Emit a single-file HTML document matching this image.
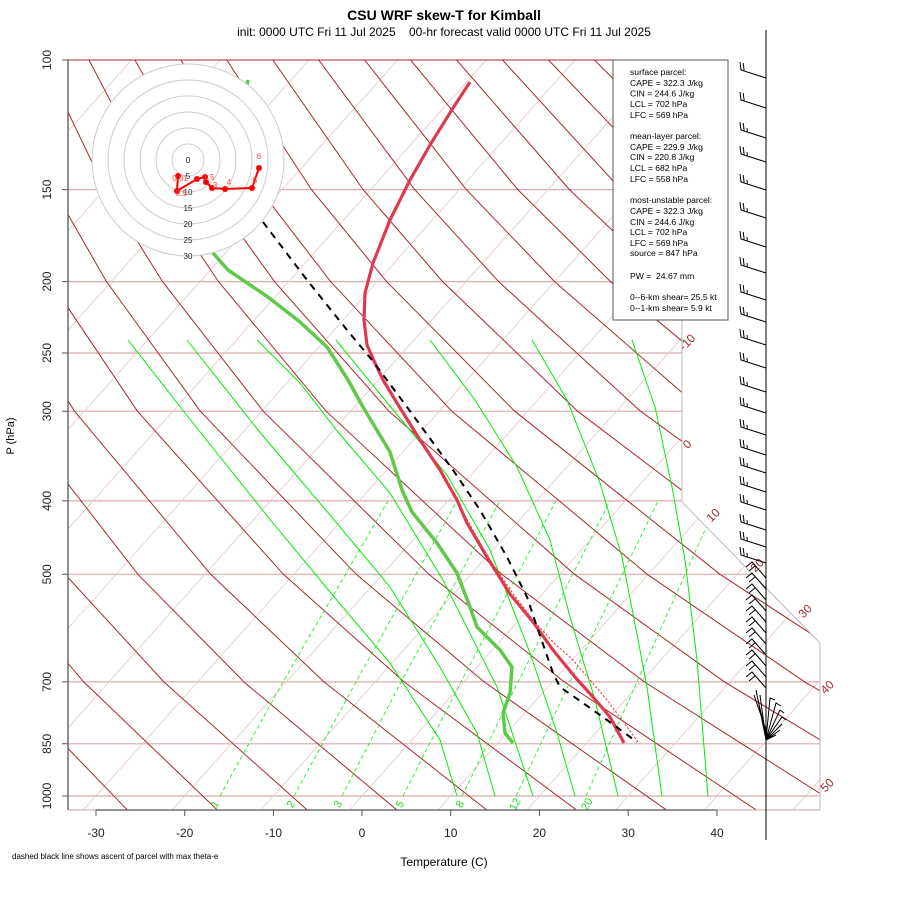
<!DOCTYPE html>
<html><head><meta charset="utf-8"><style>
html,body{margin:0;padding:0;background:#fff;}
svg{display:block;font-family:"Liberation Sans",sans-serif;}
</style></head><body>
<svg width="900" height="900" viewBox="0 0 900 900" xmlns="http://www.w3.org/2000/svg">
<defs><clipPath id="cp"><polygon points="68,60 682,60 682,502 820,643 820,810 68,810"/></clipPath></defs>
<rect width="900" height="900" fill="#fff"/>
<g clip-path="url(#cp)" fill="none">
<!-- isobars -->
<g stroke="#dcaaaa" stroke-width="1.2">
<line x1="68" y1="189.6" x2="820" y2="189.6"/><line x1="68" y1="281.6" x2="820" y2="281.6"/>
<line x1="68" y1="353" x2="820" y2="353"/><line x1="68" y1="411.2" x2="820" y2="411.2"/>
<line x1="68" y1="500.9" x2="820" y2="500.9"/><line x1="68" y1="574.3" x2="820" y2="574.3"/>
<line x1="68" y1="681.9" x2="820" y2="681.9"/><line x1="68" y1="743.8" x2="820" y2="743.8"/>
<line x1="68" y1="796" x2="820" y2="796"/>
</g>
<!-- isotherms -->
<path stroke="#ebcaca" stroke-width="0.9" d="M-626.2 810L42.8 60M-537.5 810L131.5 60M-448.8 810L220.2 60M-360.1 810L308.9 60M-271.4 810L397.6 60M-182.7 810L486.3 60M-94 810L575 60M-5.3 810L663.7 60M83.4 810L752.4 60M172.1 810L841.1 60M260.8 810L929.8 60M349.5 810L1018.5 60M438.2 810L1107.2 60M526.9 810L1195.9 60M615.6 810L1284.6 60M704.3 810L1373.3 60M793 810L1462 60"/>
<!-- dry adiabats -->
<g stroke="#a52a2a" stroke-width="1">
<polyline points="129,811.6 3.6,681.9 -80.4,574.3 -177,411.2"/>
<polyline points="219,811.6 83.7,681.9 -7.6,574.3 -114.1,411.2"/>
<polyline points="309,811.6 163.8,681.9 65.1,574.3 -51.2,411.2 -117.5,281.6"/>
<polyline points="398.8,811.6 243.9,681.9 137.9,574.3 11.6,411.2 -61.5,281.6 -101.2,189.6"/>
<polyline points="488.8,811.6 324,681.9 210.7,574.3 74.5,411.2 -5.5,281.6 -49.6,189.6 -94.8,60"/>
<polyline points="578.7,811.6 404.1,681.9 283.4,574.3 137.4,411.2 50.5,281.6 2,189.6 -48.9,60"/>
<polyline points="668.7,811.6 484.2,681.9 356.2,574.3 200.3,411.2 106.5,281.6 53.6,189.6 -2.9,60"/>
<polyline points="758.6,811.6 564.3,681.9 428.9,574.3 263.2,411.2 162.5,281.6 105.2,189.6 43,60"/>
<polyline points="848.6,811.6 644.4,681.9 501.7,574.3 326.1,411.2 218.5,281.6 156.8,189.6 89,60"/>
<polyline points="938.5,811.6 724.5,681.9 574.5,574.3 388.9,411.2 274.5,281.6 208.4,189.6 134.9,60"/>
<polyline points="1028.5,811.6 804.7,681.9 647.2,574.3 451.8,411.2 330.6,281.6 259.9,189.6 180.9,60"/>
<polyline points="1118.4,811.6 884.8,681.9 720,574.3 514.7,411.2 386.6,281.6 311.5,189.6 226.8,60"/>
<polyline points="1208.4,811.6 964.9,681.9 792.8,574.3 577.6,411.2 442.6,281.6 363.1,189.6 272.8,60"/>
<polyline points="1298.3,811.6 1045,681.9 865.5,574.3 640.5,411.2 498.6,281.6 414.7,189.6 318.7,60"/>
<polyline points="1388.2,811.6 1125.1,681.9 938.3,574.3 703.4,411.2 554.6,281.6 466.3,189.6 364.7,60"/>
<polyline points="1205.2,681.9 1011,574.3 766.2,411.2 610.6,281.6 517.8,189.6 410.6,60"/>
<polyline points="1083.8,574.3 829.1,411.2 666.6,281.6 569.4,189.6 456.6,60"/>
<polyline points="1156.6,574.3 892,411.2 722.6,281.6 621,189.6 502.5,60"/>
<polyline points="954.9,411.2 778.6,281.6 672.6,189.6 548.5,60"/>
<polyline points="1017.8,411.2 834.7,281.6 724.2,189.6 594.4,60"/>
<polyline points="890.7,281.6 775.7,189.6 640.4,60"/>
<polyline points="946.7,281.6 827.3,189.6 686.3,60"/>
</g>
<!-- mixing ratio -->
<g stroke="#22ee22" stroke-width="0.9" stroke-dasharray="4,3">
<polyline points="220,796 283,681.9 388,500.9"/>
<polyline points="294,796 356,681.9 457,500.9"/>
<polyline points="342,796 401,681.9 500,500.9"/>
<polyline points="403,796 461,681.9 556,500.9"/>
<polyline points="462,796 518,681.9 610,500.9"/>
<polyline points="516,796 570,681.9 658,500.9"/>
<polyline points="586,796 637,681.9 718,500.9"/>
</g>
<!-- moist adiabats -->
<g stroke="#00ee00" stroke-width="1">
<polyline points="128,340 185,413 268,517 330,592 390,663 440,740 457,796"/>
<polyline points="187,340 258,430 330,515 390,587 440,667 477,733 495,796"/>
<polyline points="257,340 300,383 338,432 390,493 443,580 497,687 533,796"/>
<polyline points="336,340 385,400 447,475 490,550 530,653 557,733 575,796"/>
<polyline points="430,340 475,400 517,467 550,540 570,617 595,700 618,796"/>
<polyline points="532,340 567,400 600,483 622,557 640,650 647,687 662,796"/>
<polyline points="632,340 655,407 672,487 685,560 697,660 708,796"/>
</g>
<!-- profiles -->
<polyline stroke="#ff2020" stroke-width="1" stroke-dasharray="2,2" points="440,470 457,500 470,525 490,560 512,592 533,620 553,642 573,660 590,680 607,700 622,720 638,742"/>
<polyline stroke="#5fc94a" stroke-width="3.5" stroke-linejoin="round" points="248,80 213,253 228,270 268,297 300,322 327,347 348,380 363,407 390,452 402,490 412,512 437,543 457,573 470,607 477,627 500,650 512,667 510,693 503,713 505,733 513,743"/>
<polyline stroke="#de3a4f" stroke-width="3.2" stroke-linejoin="round" points="470,82 453,108 430,145 410,180 390,220 373,263 365,293 364,320 367,345 375,363 383,380 397,403 420,440 440,470 457,500 467,523 487,557 510,594 533,622 553,650 575,677 593,697 610,717 617,730 624,743"/>
<polyline stroke="#000" stroke-width="2" stroke-dasharray="7,6" points="263,222 307,280 347,330 372,360 407,407 453,470 480,510 507,557 527,597 537,627 553,673 560,687 583,703 607,720 637,742"/>
</g>
<!-- boundary -->
<polyline points="682,320 682,502 820,643 820,810" fill="none" stroke="#bbb" stroke-width="1"/>
<line x1="68" y1="60" x2="682" y2="60" stroke="#a52a2a" stroke-width="1"/>
<line x1="68" y1="810" x2="820" y2="810" stroke="#c8a0a0" stroke-width="1"/>
<!-- labels isotherms -->
<g font-size="12" fill="#a52a2a" text-anchor="middle">
<text transform="translate(690,345) rotate(-45)">-10</text>
<text transform="translate(690,447) rotate(-45)">0</text>
<text transform="translate(716,518) rotate(-45)">10</text>
<text transform="translate(760,568) rotate(-45)">20</text>
<text transform="translate(808,614) rotate(-45)">30</text>
<text transform="translate(830,690) rotate(-45)">40</text>
<text transform="translate(830,788) rotate(-45)">50</text>
</g>
<g font-size="11" fill="#22dd22" text-anchor="middle">
<text transform="translate(218,806) rotate(-60)">1</text>
<text transform="translate(294,806) rotate(-60)">2</text>
<text transform="translate(341,806) rotate(-60)">3</text>
<text transform="translate(403,806) rotate(-60)">5</text>
<text transform="translate(463,806) rotate(-60)">8</text>
<text transform="translate(518,806) rotate(-60)">12</text>
<text transform="translate(590,806) rotate(-60)">20</text>
</g>
<!-- axes -->
<line x1="68" y1="60" x2="68" y2="810" stroke="#555" stroke-width="1.3"/>
<line x1="96" y1="810" x2="717" y2="810" stroke="#555" stroke-width="1.3"/>
<g stroke="#555">
<path d="M62 60H68M62 189.6H68M62 281.6H68M62 353H68M62 411.2H68M62 500.9H68M62 574.3H68M62 681.9H68M62 743.8H68M62 796H68"/>
<path d="M96 810V816M184.7 810V816M273.4 810V816M362 810V816M450.7 810V816M539.4 810V816M628.2 810V816M717 810V816"/>
</g>
<g font-size="12" fill="#222" text-anchor="middle">
<text transform="translate(51,60) rotate(-90)">100</text>
<text transform="translate(51,189.6) rotate(-90)">150</text>
<text transform="translate(51,281.6) rotate(-90)">200</text>
<text transform="translate(51,353) rotate(-90)">250</text>
<text transform="translate(51,411.2) rotate(-90)">300</text>
<text transform="translate(51,500.9) rotate(-90)">400</text>
<text transform="translate(51,574.3) rotate(-90)">500</text>
<text transform="translate(51,681.9) rotate(-90)">700</text>
<text transform="translate(51,743.8) rotate(-90)">850</text>
<text transform="translate(51,796) rotate(-90)">1000</text>
<text x="96" y="837">-30</text><text x="184.7" y="837">-20</text><text x="273.4" y="837">-10</text>
<text x="362" y="837">0</text><text x="450.7" y="837">10</text><text x="539.4" y="837">20</text>
<text x="628.2" y="837">30</text><text x="717" y="837">40</text>
</g>
<text x="444" y="20" text-anchor="middle" font-size="14" font-weight="bold">CSU WRF skew-T for Kimball</text>
<text x="444" y="36" text-anchor="middle" font-size="12" xml:space="preserve">init: 0000 UTC Fri 11 Jul 2025    00-hr forecast valid 0000 UTC Fri 11 Jul 2025</text>
<text x="444" y="866" text-anchor="middle" font-size="12">Temperature (C)</text>
<text transform="translate(14,436) rotate(-90)" text-anchor="middle" font-size="11">P (hPa)</text>
<text x="12" y="859" font-size="8">dashed black line shows ascent of parcel with max theta-e</text>
<!-- wind column -->
<line x1="766" y1="30" x2="766" y2="840" stroke="#000" stroke-width="1"/>
<path fill="none" stroke="#000" stroke-width="1" d="
M766 78L741 70L740 62M744.2 71L743.2 63
M766 108L741 100L740 92M744.2 101L743.2 93
M766 138L741 130L740 122M744.2 131L743.2 123M747.4 132L747 128
M766 162L741 154L740 146M744.2 155L743.2 147M747.4 156L747 152
M766 190L741 182L740 174M744.2 183L743.2 175M747.4 184L747 180
M766 218L741 210L740 202M744.2 211L743.2 203M747.4 212L747 208
M766 247L741 239L740 231M744.2 240L743.2 232M747.4 241L747 237
M766 273L741 265L740 257M744.2 266L743.2 258M747.4 267L747 263
M766 300L741 292L740 284M744.2 293L743.2 285M747.4 294L747 290
M766 322L741 314L740 306M744.2 315L743.2 307M747.4 316L747 312
M766 345L741 337L740 329M744.2 338L743.2 330M747.4 339L747 335
M766 368L741 360L740 352M744.2 361L743.2 353M747.4 362L747 358
M766 392L741 384L740 376M744.2 385L743.2 377M747.4 386L747 382
M766 413L741 405L740 397M744.2 406L743.2 398M747.4 407L747 403
M766 435L741 427L740 419M744.2 428L743.2 420M747.4 429L747 425
M766 455L741 447L740 439M744.2 448L743.2 440M747.4 449L747 445
M766 473L741 465L740 457M744.2 466L743.2 458M747.4 467L747 463
M766 492L741 484L740 476M744.2 485L743.2 477M747.4 486L747 482
M766 510L741 502L740 494M744.2 503L743.2 495M747.4 504L747 500
M766 530L741 522L740 514M744.2 523L743.2 515M747.4 524L747 520
M766 547L741 539L740 531M744.2 540L743.2 532M747.4 541L747 537
M766 563L741 555L740 547M744.2 556L743.2 548M747.4 557L747 553
M766 578L752 562L746 567M755 566L749 571
M766 589L752 573L746 578M755 577L749 582
M766 600L752 584L746 589M755 588L749 593
M766 611L752 595L746 600M755 599L749 604
M766 622L752 606L746 611M755 610L749 615
M766 633L752 617L746 622M755 621L749 626
M766 644L752 628L746 633M755 632L749 637
M766 655L752 639L746 644M755 643L749 648
M766 666L752 650L746 655M755 654L749 659
M766 677L752 661L746 666M755 665L749 670
M766 688L752 672L746 677M755 676L749 681
M766 740L756 690M766 740L760 695M766 740L770 698L775 700M766 740L776 703L781 706M766 740L780 710L784 713M766 740L782 717L786 720M766 740L782 724M766 740L780 730M766 740L776 735M766 730L754 695M766 735L758 700"/>
<!-- hodograph -->
<g>
<circle cx="188" cy="160" r="96" fill="#fff" stroke="#ccc"/>
<g fill="none" stroke="#ccc"><circle cx="188" cy="160" r="16"/><circle cx="188" cy="160" r="32"/><circle cx="188" cy="160" r="48"/><circle cx="188" cy="160" r="64"/><circle cx="188" cy="160" r="80"/></g>
<g font-size="8" fill="#222" text-anchor="middle">
<text x="188" y="163">0</text><text x="188" y="179">5</text><text x="188" y="195">10</text><text x="188" y="211">15</text><text x="188" y="227">20</text><text x="188" y="243">25</text><text x="188" y="259">30</text>
</g>
<polyline fill="none" stroke="#f00" stroke-width="2" points="178,176 177,191 197,179 205,177 206,182 212,188 225,189 252,188 259,168"/>
<g fill="#f00"><circle cx="178" cy="176" r="3"/><circle cx="177" cy="191" r="3"/><circle cx="197" cy="179" r="3"/><circle cx="205" cy="177" r="3"/><circle cx="206" cy="182" r="3"/><circle cx="212" cy="188" r="3"/><circle cx="225" cy="189" r="3"/><circle cx="252" cy="188" r="3"/><circle cx="259" cy="168" r="3"/></g>
<g font-size="8" fill="#f44" text-anchor="middle">
<text x="259" y="159">6</text><text x="255" y="183">5</text><text x="229" y="185">4</text><text x="215" y="188">3</text><text x="209" y="180">1.5</text><text x="181" y="196">0.5</text><text x="180" y="181">0.01</text>
</g>
</g>
<!-- text box -->
<rect x="613" y="60" width="115" height="260" fill="#fff" stroke="#555" stroke-width="1"/>
<g font-size="8.6" fill="#000">
<text x="630" y="75">surface parcel:</text>
<text x="630" y="86">CAPE = 322.3 J/kg</text>
<text x="630" y="96.5">CIN = 244.6 J/kg</text>
<text x="630" y="107">LCL = 702 hPa</text>
<text x="630" y="118">LFC = 569 hPa</text>
<text x="630" y="139">mean-layer parcel:</text>
<text x="630" y="150">CAPE = 229.9 J/kg</text>
<text x="630" y="160">CIN = 220.8 J/kg</text>
<text x="630" y="171">LCL = 682 hPa</text>
<text x="630" y="182">LFC = 558 hPa</text>
<text x="630" y="203">most-unstable parcel:</text>
<text x="630" y="214">CAPE = 322.3 J/kg</text>
<text x="630" y="225">CIN = 244.6 J/kg</text>
<text x="630" y="235">LCL = 702 hPa</text>
<text x="630" y="246">LFC = 569 hPa</text>
<text x="630" y="256">source = 847 hPa</text>
<text x="630" y="279" xml:space="preserve">PW =  24.67 mm</text>
<text x="630" y="300">0--6-km shear= 25.5 kt</text>
<text x="630" y="311">0--1-km shear= 5.9 kt</text>
</g>
</svg>
</body></html>
